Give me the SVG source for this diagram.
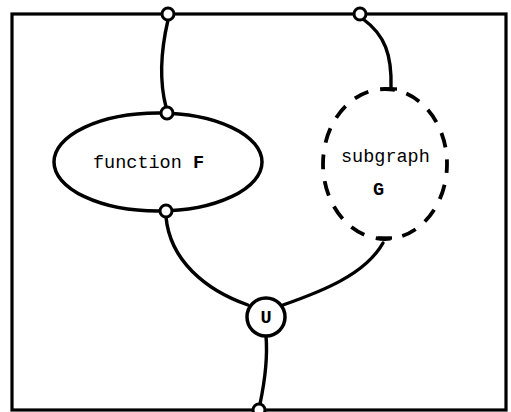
<svg xmlns="http://www.w3.org/2000/svg" width="511" height="412" viewBox="0 0 511 412">
  <style>
    .line { fill: none; stroke: #000; stroke-width: 3.4; stroke-linecap: round; }
    .tick { fill: none; stroke: #000; stroke-width: 3.4; }
    .node { fill: #fff; stroke: #000; stroke-width: 3.5; }
    .dashed { fill: none; stroke: #000; stroke-width: 3.8; stroke-dasharray: 15 12; stroke-dashoffset: 6; }
    .port { fill: #fff; stroke: #000; stroke-width: 3; }
    .label { font-family: "Liberation Mono", "DejaVu Sans Mono", monospace; font-size: 18.5px; fill: #000; }
    .bold { font-weight: bold; }
  </style>
  <rect width="511" height="412" fill="#fff"/>

  <!-- enclosing frame -->
  <rect id="frame" x="12" y="14" width="494" height="396" fill="none" stroke="#000" stroke-width="3.2"/>

  <!-- connectors -->
  <g id="connectors">
    <path class="line" d="M168 20 C161 50 159 80 166 107"/>
    <path class="line" d="M363 19 C385 35 392 55 391 88"/>
    <path class="tick" d="M385 89 L397 89"/>
    <path class="tick" d="M378 238 L392 238"/>
    <path class="line" d="M166 217 C170 260 205 290 248 305"/>
    <path class="line" d="M383 243 C365 275 320 292 283 305"/>
    <path class="line" d="M266 336 C268 360 264 385 260 404"/>
  </g>

  <g id="function-F">
    <ellipse class="node" cx="158" cy="162" rx="104" ry="49"/>
    <text class="label" x="93" y="168">function <tspan class="bold">F</tspan></text>
  </g>

  <g id="subgraph-G">
    <ellipse class="dashed" cx="385" cy="164" rx="62" ry="75"/>
    <text class="label" x="341" y="162">subgraph</text>
    <text class="label bold" x="373" y="195">G</text>
  </g>

  <g id="union-U">
    <circle class="node" cx="266" cy="317" r="19"/>
    <text class="label bold" x="266" y="323" text-anchor="middle">U</text>
  </g>

  <g id="ports">
    <circle class="port" cx="168" cy="14" r="6"/>
    <circle class="port" cx="360" cy="14" r="6"/>
    <circle class="port" cx="167" cy="113" r="6"/>
    <circle class="port" cx="166" cy="211" r="6"/>
    <circle class="port" cx="259" cy="410" r="6"/>
  </g>
</svg>
